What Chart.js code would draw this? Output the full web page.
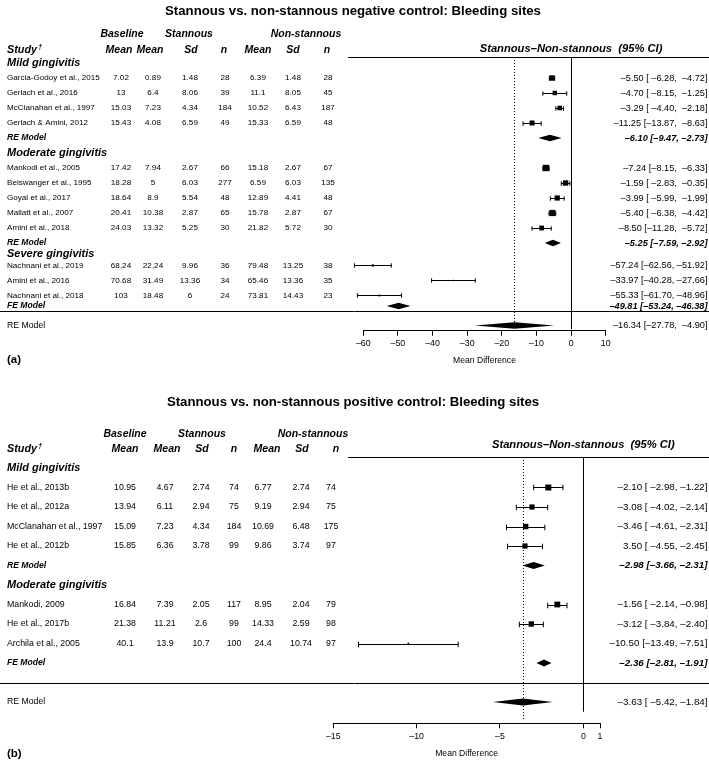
<!DOCTYPE html>
<html lang="en">
<head>
<meta charset="utf-8">
<title>Stannous vs. non-stannous: Bleeding sites</title>
<script src="https://cdn.jsdelivr.net/npm/chart.js@4.4.1/dist/chart.umd.min.js"></script>
<style>
  html, body { margin: 0; padding: 0; background: #fff; }
  canvas { display: block; }
</style>
</head>
<body>
<canvas id="chartA" width="709" height="380"></canvas>
<canvas id="chartB" width="709" height="380"></canvas>
<script>
// fuente tipo Helvetica (la de R)
const F = '"Liberation Sans", Arial, Helvetica, sans-serif';

// ---------- Panel (a): control negativo ----------
const estudiosA = ['Garcia-Godoy et al., 2015', 'Gerlach et al., 2016', 'McClanahan et al., 1997', 'Gerlach & Amini, 2012',
  'Mankodi et al., 2005', 'Beiswanger et al., 1995', 'Goyal et al., 2017', 'Mallatt et al., 2007', 'Amini et al., 2018',
  'Nachnani et al., 2019', 'Amini et al., 2016', 'Nachnani et al., 2018'];
const filasA = [1, 2, 3, 4, 7, 8, 9, 10, 11, 13.5, 14.5, 15.5];
const baseA = [7.02, 13, 15.03, 15.43, 17.42, 18.28, 18.64, 20.41, 24.03, 68.24, 70.68, 103];
const sMediaA = [0.89, 6.4, 7.23, 4.08, 7.94, 5, 8.9, 10.38, 13.32, 22.24, 31.49, 18.48];
const sSdA = [1.48, 8.06, 4.34, 6.59, 2.67, 6.03, 5.54, 2.87, 5.25, 9.96, 13.36, 6];
const sNA = [28, 39, 184, 49, 66, 277, 48, 65, 30, 36, 34, 24];
const nsMediaA = [6.39, 11.1, 10.52, 15.33, 15.18, 6.59, 12.89, 15.78, 21.82, 79.48, 65.46, 73.81];
const nsSdA = [1.48, 8.05, 6.43, 6.59, 2.67, 6.03, 4.41, 2.87, 5.72, 13.25, 13.36, 14.43];
const nsNA = [28, 45, 187, 48, 67, 135, 48, 67, 30, 38, 35, 23];
const estA = [-5.50, -4.70, -3.29, -11.25, -7.24, -1.59, -3.99, -5.40, -8.50, -57.24, -33.97, -55.33];
const infA = [-6.28, -8.15, -4.40, -13.87, -8.15, -2.83, -5.99, -6.38, -11.28, -62.56, -40.28, -61.70];
const supA = [-4.72, -1.25, -2.18, -8.63, -6.33, -0.35, -1.99, -4.42, -5.72, -51.92, -27.66, -48.96];
const ciA = ['–5.50 [ –6.28,  –4.72]', '–4.70 [ –8.15,  –1.25]', '–3.29 [ –4.40,  –2.18]', '–11.25 [–13.87,  –8.63]',
  '–7.24 [–8.15,  –6.33]', '–1.59 [ –2.83,  –0.35]', '–3.99 [ –5.99,  –1.99]', '–5.40 [ –6.38,  –4.42]', '–8.50 [–11.28,  –5.72]',
  '–57.24 [–62.56, –51.92]', '–33.97 [–40.28, –27.66]', '–55.33 [–61.70, –48.96]'];
const pesoA = [9, 6, 6.5, 7.7, 12.6, 9, 8.3, 11.9, 7.1, 1.5, 0.6, 1.0];
const gruposA = ['Mild gingivitis', 'Moderate gingivitis', 'Severe gingivitis'];
const filasGrupoA = [0, 6, 12.75];
const modelosA = ['RE Model', 'RE Model', 'FE Model'];
const filasModeloA = [5, 12, 16.2];
const estModeloA = [-6.10, -5.25, -49.81];
const infModeloA = [-9.47, -7.59, -53.24];
const supModeloA = [-2.73, -2.92, -46.38];
const ciModeloA = ['–6.10 [–9.47, –2.73]', '–5.25 [–7.59, –2.92]', '–49.81 [–53.24, –46.38]'];
const totalA = [-16.34, -27.78, -4.90]; // est, inf, sup
const ciTotalA = '–16.34 [–27.78,  –4.90]';
const ticksA = [-60, -50, -40, -30, -20, -10, 0, 10];

// ---------- Panel (b): control positivo ----------
const estudiosB = ['He et al., 2013b', 'He et al., 2012a', 'McClanahan et al., 1997', 'He et al., 2012b',
  'Mankodi, 2009', 'He et al., 2017b', 'Archila et al., 2005'];
const filasB = [1, 2, 3, 4, 7, 8, 9];
const baseB = [10.95, 13.94, 15.09, 15.85, 16.84, 21.38, 40.1];
const sMediaB = [4.67, 6.11, 7.23, 6.36, 7.39, 11.21, 13.9];
const sSdB = [2.74, 2.94, 4.34, 3.78, 2.05, 2.6, 10.7];
const sNB = [74, 75, 184, 99, 117, 99, 100];
const nsMediaB = [6.77, 9.19, 10.69, 9.86, 8.95, 14.33, 24.4];
const nsSdB = [2.74, 2.94, 6.48, 3.74, 2.04, 2.59, 10.74];
const nsNB = [74, 75, 175, 97, 79, 98, 97];
const estB = [-2.10, -3.08, -3.46, -3.50, -1.56, -3.12, -10.50];
const infB = [-2.98, -4.02, -4.61, -4.55, -2.14, -3.84, -13.49];
const supB = [-1.22, -2.14, -2.31, -2.45, -0.98, -2.40, -7.51];
const ciB = ['–2.10 [ –2.98, –1.22]', '–3.08 [ –4.02, –2.14]', '–3.46 [ –4.61, –2.31]', '3.50 [ –4.55, –2.45]',
  '–1.56 [ –2.14, –0.98]', '–3.12 [ –3.84, –2.40]', '–10.50 [–13.49, –7.51]'];
const pesoB = [11.1, 8.3, 9, 8.3, 10.4, 9, 0.8];
const gruposB = ['Mild gingivitis', 'Moderate gingivitis'];
const filasGrupoB = [0, 6];
const modelosB = ['RE Model', 'FE Model'];
const filasModeloB = [5, 10];
const estModeloB = [-2.98, -2.36];
const infModeloB = [-3.66, -2.81];
const supModeloB = [-2.31, -1.91];
const ciModeloB = ['–2.98 [–3.66, –2.31]', '–2.36 [–2.81, –1.91]'];
const totalB = [-3.63, -5.42, -1.84];
const ciTotalB = '–3.63 [ –5.42, –1.84]';
const ticksB = [-15, -10, -5, 0, 1];

// lado del cuadrado segun el peso
const radioPeso = (w) => 0.9 * Math.sqrt(w) * Math.SQRT2;

function pluginForest(c) {
  return {
    id: 'forest' + c.id,
    beforeDatasetsDraw(chart) {
      const { ctx, chartArea, scales: { x, y } } = chart;
      const Y = (f) => y.getPixelForValue(f);
      const X = (v) => x.getPixelForValue(v);
      ctx.save();
      ctx.strokeStyle = '#000';
      ctx.fillStyle = '#000';
      ctx.lineWidth = 1;

      // linea bajo encabezado y separador
      ctx.beginPath();
      ctx.moveTo(348, Math.round(chartArea.top) + 0.5); ctx.lineTo(709, Math.round(chartArea.top) + 0.5);
      const ys = Math.round(Y(c.filaSeparador)) + 0.5;
      ctx.moveTo(0, ys); ctx.lineTo(709, ys);
      ctx.stroke();

      // linea de no efecto
      const x0 = Math.round(X(0)) + 0.5;
      ctx.beginPath(); ctx.moveTo(x0, chartArea.top); ctx.lineTo(x0, Y(c.finSolida)); ctx.stroke();
      // linea punteada en el efecto global
      const xt = Math.round(X(c.total[0])) + 0.5;
      ctx.setLineDash([1, 2]);
      ctx.beginPath(); ctx.moveTo(xt, chartArea.top); ctx.lineTo(xt, Y(c.finPunteada)); ctx.stroke();
      ctx.setLineDash([]);

      // intervalos de confianza
      c.inf.forEach((lo, i) => {
        const yy = Math.round(Y(c.filas[i])) + 0.5;
        const a = X(lo), b = X(c.sup[i]);
        ctx.beginPath();
        ctx.moveTo(a, yy); ctx.lineTo(b, yy);
        ctx.moveTo(a, yy - c.tapa); ctx.lineTo(a, yy + c.tapa);
        ctx.moveTo(b, yy - c.tapa); ctx.lineTo(b, yy + c.tapa);
        ctx.stroke();
      });

      // diamantes (modelos por subgrupo y total)
      const diamante = (est, lo, hi, fila) => {
        const yy = Y(fila);
        ctx.beginPath();
        ctx.moveTo(X(lo), yy); ctx.lineTo(X(est), yy - c.alto);
        ctx.lineTo(X(hi), yy); ctx.lineTo(X(est), yy + c.alto);
        ctx.closePath(); ctx.fill();
      };
      c.estModelo.forEach((e, i) => diamante(e, c.infModelo[i], c.supModelo[i], c.filasModelo[i]));
      diamante(c.total[0], c.total[1], c.total[2], c.filaTotal);
      ctx.restore();
    },
    afterDraw(chart) {
      const { ctx, scales: { x, y } } = chart;
      const Y = (f) => y.getPixelForValue(f);
      ctx.save();
      ctx.fillStyle = '#000';
      ctx.textBaseline = 'middle';

      // titulo
      ctx.textAlign = 'center';
      ctx.font = `bold 13.2px ${F}`;
      ctx.fillText(c.titulo, 353, c.yTitulo);

      // encabezados de columnas
      ctx.font = `italic bold 10.5px ${F}`;
      ctx.fillText('Baseline', c.colEnc1[0], Y(c.filaEnc1));
      ctx.fillText('Stannous', c.colEnc1[1], Y(c.filaEnc1));
      ctx.fillText('Non-stannous', c.colEnc1[2], Y(c.filaEnc1));
      ['Mean', 'Mean', 'Sd', 'n', 'Mean', 'Sd', 'n'].forEach((t, i) => ctx.fillText(t, c.colEnc2[i], Y(c.filaEnc2)));
      ctx.font = `italic bold 11.2px ${F}`;
      ctx.fillText('Stannous–Non-stannous  (95% CI)', x.getPixelForValue(0), Y(c.filaEncCI));
      ctx.textAlign = 'left';
      ctx.font = `italic bold 10.8px ${F}`;
      ctx.fillText('Study', 7, Y(c.filaEnc2));
      const wS = ctx.measureText('Study').width;
      ctx.font = `italic bold 7.5px ${F}`;
      ctx.fillText('†', 7 + wS + 1, Y(c.filaEnc2) - 3);

      // grupos
      ctx.font = `italic bold 11px ${F}`;
      c.grupos.forEach((g, i) => ctx.fillText(g, 7, Y(c.filasGrupo[i])));

      // filas de estudios
      ctx.font = `${c.tamTexto}px ${F}`;
      c.estudios.forEach((s, i) => {
        const yy = Y(c.filas[i]);
        ctx.textAlign = 'left';
        ctx.fillText(s, 7, yy);
        ctx.textAlign = 'center';
        c.columnas.forEach((col, j) => ctx.fillText(String(col[i]), c.colX[j], yy));
      });

      // modelos
      ctx.textAlign = 'left';
      ctx.font = `italic bold 8.6px ${F}`;
      c.modelos.forEach((m, i) => ctx.fillText(m, 7, Y(c.filasModelo[i])));
      ctx.font = `8.7px ${F}`;
      ctx.fillText('RE Model', 7, Y(c.filaTotal));

      // columna de IC a la derecha
      ctx.textAlign = 'right';
      ctx.font = `${c.tamCI}px ${F}`;
      c.ci.forEach((t, i) => ctx.fillText(t, 707.5, Y(c.filas[i])));
      ctx.fillText(c.ciTotal, 707.5, Y(c.filaTotal));
      ctx.font = `italic bold ${c.tamCI}px ${F}`;
      c.ciModelo.forEach((t, i) => ctx.fillText(t, 707.5, Y(c.filasModelo[i])));

      // etiqueta del panel
      ctx.textAlign = 'left';
      ctx.font = `bold 11.5px ${F}`;
      ctx.fillText(c.panel, 7, c.yPanel);
      ctx.restore();
    }
  };
}

function crearForest(canvasId, c) {
  return new Chart(document.getElementById(canvasId), {
    type: 'scatter',
    data: {
      datasets: [{
        data: c.est.map((e, i) => ({ x: e, y: c.filas[i] })),
        pointStyle: 'rect',
        pointRadius: c.pesos.map(radioPeso),
        pointBackgroundColor: '#000',
        pointBorderWidth: 0,
        clip: false
      }]
    },
    options: {
      responsive: false,
      animation: false,
      events: [],
      layout: { autoPadding: false, padding: c.padding },
      plugins: { legend: { display: false }, tooltip: { enabled: false }, title: { display: false } },
      scales: {
        x: {
          type: 'linear', min: c.ticks[0], max: c.ticks[c.ticks.length - 1],
          afterBuildTicks: (s) => { s.ticks = c.ticks.map((v) => ({ value: v })); },
          afterFit: (s) => { s.height = 36; },
          grid: { display: true, drawOnChartArea: false, drawTicks: true, tickLength: 5, color: '#000', lineWidth: 1 },
          border: { display: true, color: '#000', width: 1 },
          ticks: {
            color: '#000', font: { family: F, size: 8.8 }, padding: 3, maxRotation: 0, autoSkip: false,
            callback: (v) => String(v).replace('-', '–')
          },
          title: { display: true, text: 'Mean Difference', color: '#000', font: { family: F, size: 8.6 }, padding: { top: 0, bottom: 1 } }
        },
        y: { type: 'linear', display: false, reverse: true, min: c.yMin, max: c.yMax }
      }
    },
    plugins: [pluginForest(c)]
  });
}

crearForest('chartA', {
  id: 'A', titulo: 'Stannous vs. non-stannous negative control: Bleeding sites', yTitulo: 11,
  panel: '(a)', yPanel: 360,
  padding: { left: 363.3, right: 103.3, top: 57, bottom: 13.3 },
  yMin: -0.4, yMax: 17.847,
  estudios: estudiosA, filas: filasA,
  columnas: [baseA, sMediaA, sSdA, sNA, nsMediaA, nsSdA, nsNA],
  colX: [121, 153, 190, 225, 258, 293, 328],
  colEnc1: [122, 189, 306], colEnc2: [119, 150, 191, 224, 258, 293, 327],
  filaEnc1: -1.93, filaEnc2: -0.87, filaEncCI: -0.93,
  est: estA, inf: infA, sup: supA, ci: ciA, pesos: pesoA,
  grupos: gruposA, filasGrupo: filasGrupoA,
  modelos: modelosA, filasModelo: filasModeloA, estModelo: estModeloA, infModelo: infModeloA, supModelo: supModeloA, ciModelo: ciModeloA,
  total: totalA, ciTotal: ciTotalA, filaTotal: 17.5, filaSeparador: 16.53,
  finSolida: 17.75, finPunteada: 17.67,
  ticks: ticksA, tamTexto: 8.1, tamCI: 9.2, tapa: 2.2, alto: 3.2
});

crearForest('chartB', {
  id: 'B', titulo: 'Stannous vs. non-stannous positive control: Bleeding sites', yTitulo: 22,
  panel: '(b)', yPanel: 374,
  padding: { left: 333.3, right: 109, top: 77, bottom: 0.7 },
  yMin: -0.564, yMax: 13.092,
  estudios: estudiosB, filas: filasB,
  columnas: [baseB, sMediaB, sSdB, sNB, nsMediaB, nsSdB, nsNB],
  colX: [125, 165, 201, 234, 263, 301, 331],
  colEnc1: [125, 202, 313], colEnc2: [125, 167, 202, 234, 267, 302, 336],
  filaEnc1: -1.74, filaEnc2: -0.97, filaEncCI: -1.18,
  est: estB, inf: infB, sup: supB, ci: ciB, pesos: pesoB,
  grupos: gruposB, filasGrupo: filasGrupoB,
  modelos: modelosB, filasModelo: filasModeloB, estModelo: estModeloB, infModelo: infModeloB, supModelo: supModeloB, ciModelo: ciModeloB,
  total: totalB, ciTotal: ciTotalB, filaTotal: 12, filaSeparador: 11,
  finSolida: 12.5, finPunteada: 12.87,
  ticks: ticksB, tamTexto: 8.8, tamCI: 9.8, tapa: 2.8, alto: 3.5
});
</script>
</body>
</html>
